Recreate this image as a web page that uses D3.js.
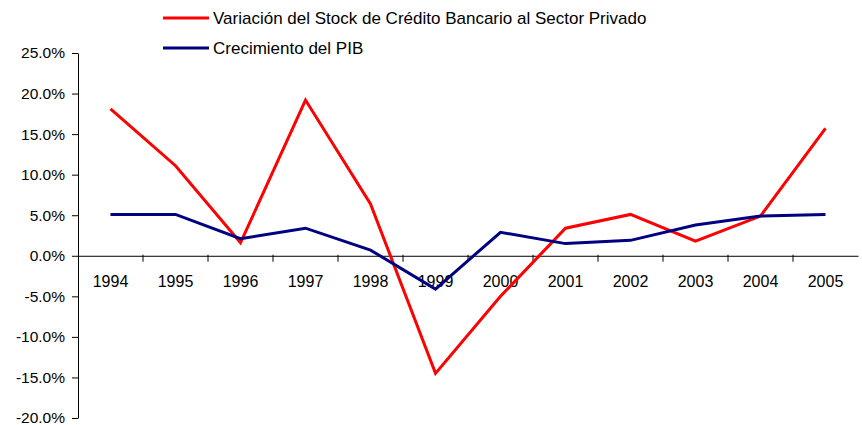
<!DOCTYPE html>
<html>
<head>
<meta charset="utf-8">
<script src="https://cdn.jsdelivr.net/npm/d3@7"></script>
<style>
  body { margin: 0; background: #fff; }
  text { font-family: "Liberation Sans", Arial, sans-serif; fill: #000; }
</style>
</head>
<body>
<svg id="chart"></svg>
<script>
// years on the x axis
var years = ["1994","1995","1996","1997","1998","1999","2000","2001","2002","2003","2004","2005"];
// variation of bank credit stock to private sector
var credito = [0.181, 0.111, 0.016, 0.192, 0.064, -0.145, -0.050, 0.034, 0.051, 0.018, 0.049, 0.157];
// GDP growth
var pib = [0.051, 0.051, 0.021, 0.034, 0.007, -0.041, 0.029, 0.015, 0.019, 0.038, 0.049, 0.051];
var yTicks = [-0.20, -0.15, -0.10, -0.05, 0, 0.05, 0.10, 0.15, 0.20, 0.25];
var seriesNames = ["Variación del Stock de Crédito Bancario al Sector Privado", "Crecimiento del PIB"];

var screen = {width:862, height:425};
var margins = {left:78, right:4, top:53, bottom:7};

var svg = d3.select("#chart")
    .attr("width", screen.width)
    .attr("height", screen.height);

var xScale = d3.scaleBand()
    .domain(years)
    .range([margins.left, screen.width - margins.right]);

var yScale = d3.scaleLinear()
    .domain([-0.20, 0.25])
    .range([screen.height - margins.bottom, margins.top]);

var fmt = function(d) { return (d * 100).toFixed(1) + "%"; };

// y axis
var yAxis = d3.axisLeft(yScale)
    .tickValues(yTicks)
    .tickFormat(fmt)
    .tickSizeOuter(0)
    .tickSizeInner(6)
    .tickPadding(7);

var yg = svg.append("g")
    .attr("transform", "translate(" + margins.left + ",0)")
    .call(yAxis);
yg.selectAll("text").style("font-size", "15.5px");
yg.select(".domain").attr("stroke", "#000");

// x axis on the zero line, labels only
var y0 = yScale(0);
var xAxis = d3.axisBottom(xScale).tickSize(0).tickPadding(20);
var xg = svg.append("g")
    .attr("transform", "translate(0," + y0 + ")")
    .call(xAxis);
xg.selectAll("text").style("font-size", "16px");
xg.select(".domain").attr("stroke", "#000");

// tick marks between categories
svg.append("g").selectAll("line")
    .data(years.slice(1))
    .enter()
    .append("line")
    .attr("x1", function(d) { return xScale(d); })
    .attr("x2", function(d) { return xScale(d); })
    .attr("y1", y0 - 1)
    .attr("y2", y0 + 6)
    .attr("stroke", "#000");

var line = d3.line()
    .x(function(d, i) { return xScale(years[i]) + xScale.bandwidth() / 2; })
    .y(function(d) { return yScale(d); });

svg.append("path")
    .datum(credito)
    .attr("d", line)
    .attr("fill", "none")
    .attr("stroke", "#ff0000")
    .attr("stroke-width", 3);

svg.append("path")
    .datum(pib)
    .attr("d", line)
    .attr("fill", "none")
    .attr("stroke", "#000080")
    .attr("stroke-width", 3);

// legend
var colors = ["#ff0000", "#000080"];
var legend = svg.append("g");
var rows = legend.selectAll("g")
    .data(seriesNames)
    .enter()
    .append("g")
    .attr("transform", function(d, i) { return "translate(163," + (18 + i * 30) + ")"; });
rows.append("line")
    .attr("x1", 0).attr("x2", 46)
    .attr("stroke", function(d, i) { return colors[i]; })
    .attr("stroke-width", 3);
rows.append("text")
    .attr("x", 50)
    .attr("dy", "0.35em")
    .style("font-size", "17px")
    .text(function(d) { return d; });
</script>
</body>
</html>
